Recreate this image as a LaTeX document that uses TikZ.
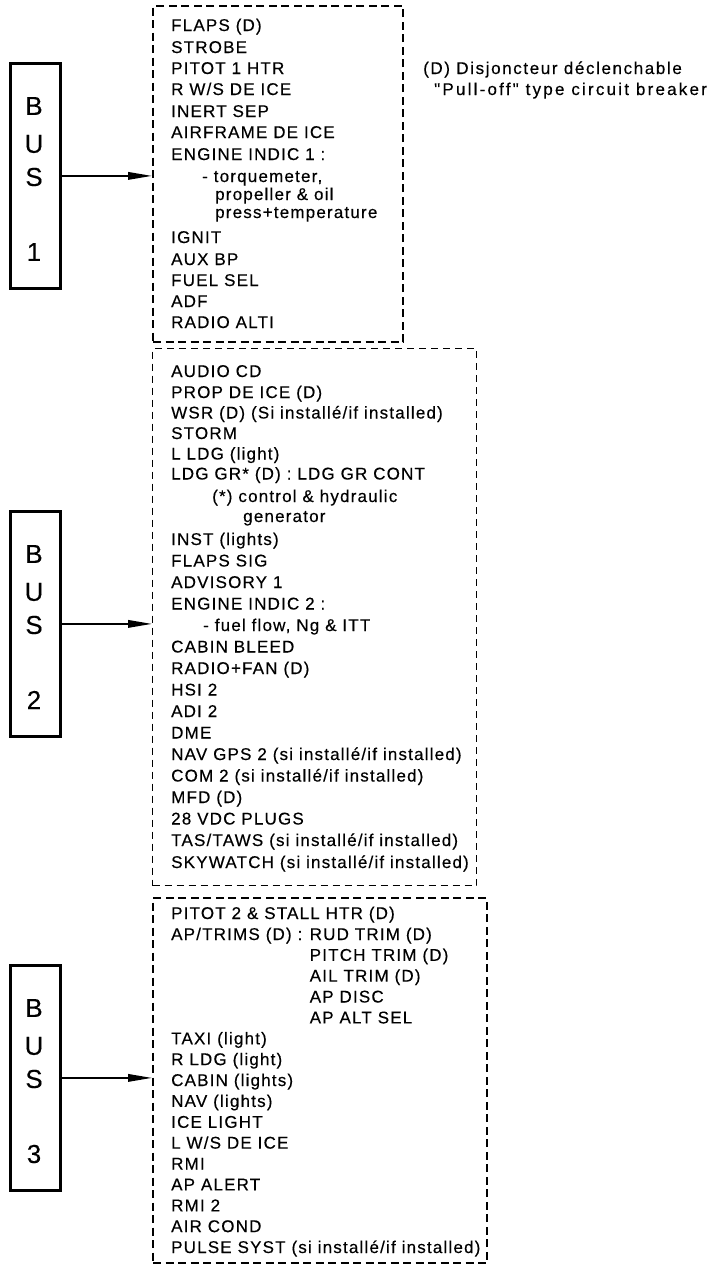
\documentclass[tikz,border=0pt]{standalone}
\usepackage{fontspec}
\setmainfont{Liberation Sans}[FakeBold=0.3]
\newfontfamily\itemfont{Liberation Sans}[LetterSpace=7,FakeBold=0.35]
\newfontfamily\legafont{Liberation Sans}[LetterSpace=9.5,FakeBold=0.35]
\newfontfamily\legbfont{Liberation Sans}[LetterSpace=13,FakeBold=0.35]
\usetikzlibrary{arrows.meta}
\begin{document}
\begin{tikzpicture}[x=1pt,y=-1pt,
  item/.style={anchor=base west, inner sep=0pt, font=\itemfont\fontsize{17}{20}\selectfont},
  lega/.style={anchor=base west, inner sep=0pt, font=\legafont\fontsize{17}{20}\selectfont},
  legb/.style={anchor=base west, inner sep=0pt, font=\legbfont\fontsize{17}{20}\selectfont},
  busbox/.style={draw, line width=2.8pt, minimum width=50pt, minimum height=225pt, anchor=north west, inner sep=0pt},
  busletter/.style={font=\fontsize{26}{30}\selectfont, inner sep=0pt},
  heavybox/.style={draw, line width=2.3pt, dash pattern=on 8pt off 4.5pt, anchor=north west, inner sep=0pt},
  lightbox/.style={draw, line width=1pt, dash pattern=on 7pt off 5pt, anchor=north west, inner sep=0pt},
  feed/.style={line width=1.8pt, -{Triangle[length=24pt,width=7.5pt]}}
]
\useasboundingbox (0,0) rectangle (715,1267);

% ---------- dashed boxes ----------
\node[heavybox, minimum width=250pt, minimum height=336pt] (box1) at (152,5) {};
\node[lightbox, minimum width=324pt, minimum height=537pt] (box2) at (152,348) {};
\node[heavybox, minimum width=334pt, minimum height=365pt] (box3) at (152,897) {};

% ---------- bus boxes ----------
\node[busbox] (bus1) at (9,62) {};
\node[busletter] (bus1b) at (34,106) {B};
\node[busletter] (bus1u) at (34,144) {U};
\node[busletter] (bus1s) at (34,177) {S};
\node[busletter] (bus1n) at (34,252) {1};

\node[busbox] (bus2) at (9,510) {};
\node[busletter] (bus2b) at (34,554) {B};
\node[busletter] (bus2u) at (34,592) {U};
\node[busletter] (bus2s) at (34,625) {S};
\node[busletter] (bus2n) at (34,700) {2};

\node[busbox] (bus3) at (9,964) {};
\node[busletter] (bus3b) at (34,1008) {B};
\node[busletter] (bus3u) at (34,1046) {U};
\node[busletter] (bus3s) at (34,1079) {S};
\node[busletter] (bus3n) at (34,1154) {3};

% ---------- connectors ----------
\draw[feed] (bus1.east) -- (bus1.east -| box1.west);
\draw[feed] (bus2.east) -- (bus2.east -| box2.west);
\draw[feed] (bus3.east) -- (bus3.east -| box3.west);

% ---------- legend ----------
\node[lega] (leg1) at (423,74) {(D) Disjoncteur déclenchable};
\node[legb] (leg2) at (434,95) {"Pull-off" type circuit breaker};

% ---------- bus 1 items ----------
\node[item] (a1) at (171,31) {FLAPS (D)};
\node[item] (a2) at (171,53) {STROBE};
\node[item] (a3) at (171,74) {PITOT 1 HTR};
\node[item] (a4) at (171,95) {R W/S DE ICE};
\node[item] (a5) at (171,117) {INERT SEP};
\node[item] (a6) at (171,138) {AIRFRAME DE ICE};
\node[item] (a7) at (171,160) {ENGINE INDIC 1 :};
\node[item] (a8) at (202,182) {- torquemeter,};
\node[item] (a9) at (215,200) {propeller \& oil};
\node[item] (a10) at (215,218) {press+temperature};
\node[item] (a11) at (171,243) {IGNIT};
\node[item] (a12) at (171,265) {AUX BP};
\node[item] (a13) at (171,286) {FUEL SEL};
\node[item] (a14) at (171,307) {ADF};
\node[item] (a15) at (171,328) {RADIO ALTI};

% ---------- bus 2 items ----------
\node[item] (b1) at (171,377) {AUDIO CD};
\node[item] (b2) at (171,398) {PROP DE ICE (D)};
\node[item] (b3) at (171,418.5) {WSR (D) (Si installé/if installed)};
\node[item] (b4) at (171,439) {STORM};
\node[item] (b5) at (171,459.5) {L LDG (light)};
\node[item] (b6) at (171,479.5) {LDG GR* (D) : LDG GR CONT};
\node[item] (b7) at (212,502) {(*) control \& hydraulic};
\node[item] (b8) at (243,522) {generator};
\node[item] (b9) at (171,545) {INST (lights)};
\node[item] (b10) at (171,566.5) {FLAPS SIG};
\node[item] (b11) at (171,588) {ADVISORY 1};
\node[item] (b12) at (171,609.5) {ENGINE INDIC 2 :};
\node[item] (b13) at (203,631) {- fuel flow, Ng \& ITT};
\node[item] (b14) at (171,652.5) {CABIN BLEED};
\node[item] (b15) at (171,674) {RADIO+FAN (D)};
\node[item] (b16) at (171,695.5) {HSI 2};
\node[item] (b17) at (171,717) {ADI 2};
\node[item] (b18) at (171,738.5) {DME};
\node[item] (b19) at (171,760) {NAV GPS 2 (si installé/if installed)};
\node[item] (b20) at (171,781.5) {COM 2 (si installé/if installed)};
\node[item] (b21) at (171,803) {MFD (D)};
\node[item] (b22) at (171,824.5) {28 VDC PLUGS};
\node[item] (b23) at (171,846) {TAS/TAWS (si installé/if installed)};
\node[item] (b24) at (171,868) {SKYWATCH (si installé/if installed)};

% ---------- bus 3 items ----------
\node[item] (c1) at (171,919) {PITOT 2 \& STALL HTR (D)};
\node[item] (c2) at (171,940) {AP/TRIMS (D) :};
\node[item] (c2a) at ([xshift=7pt]c2.base east) {RUD TRIM (D)};
\node[item] (c3) at ([yshift=-20.8pt]c2a.base west) {PITCH TRIM (D)};
\node[item] (c4) at ([yshift=-20.8pt]c3.base west) {AIL TRIM (D)};
\node[item] (c5) at ([yshift=-20.9pt]c4.base west) {AP DISC};
\node[item] (c6) at ([yshift=-20.9pt]c5.base west) {AP ALT SEL};
\node[item] (c7) at (171,1044.3) {TAXI (light)};
\node[item] (c8) at (171,1065.1) {R LDG (light)};
\node[item] (c9) at (171,1086) {CABIN (lights)};
\node[item] (c10) at (171,1106.9) {NAV (lights)};
\node[item] (c11) at (171,1127.8) {ICE LIGHT};
\node[item] (c12) at (171,1148.6) {L W/S DE ICE};
\node[item] (c13) at (171,1169.5) {RMI};
\node[item] (c14) at (171,1190.4) {AP ALERT};
\node[item] (c15) at (171,1211.3) {RMI 2};
\node[item] (c16) at (171,1232.1) {AIR COND};
\node[item] (c17) at (171,1253) {PULSE SYST (si installé/if installed)};
\end{tikzpicture}
\end{document}
